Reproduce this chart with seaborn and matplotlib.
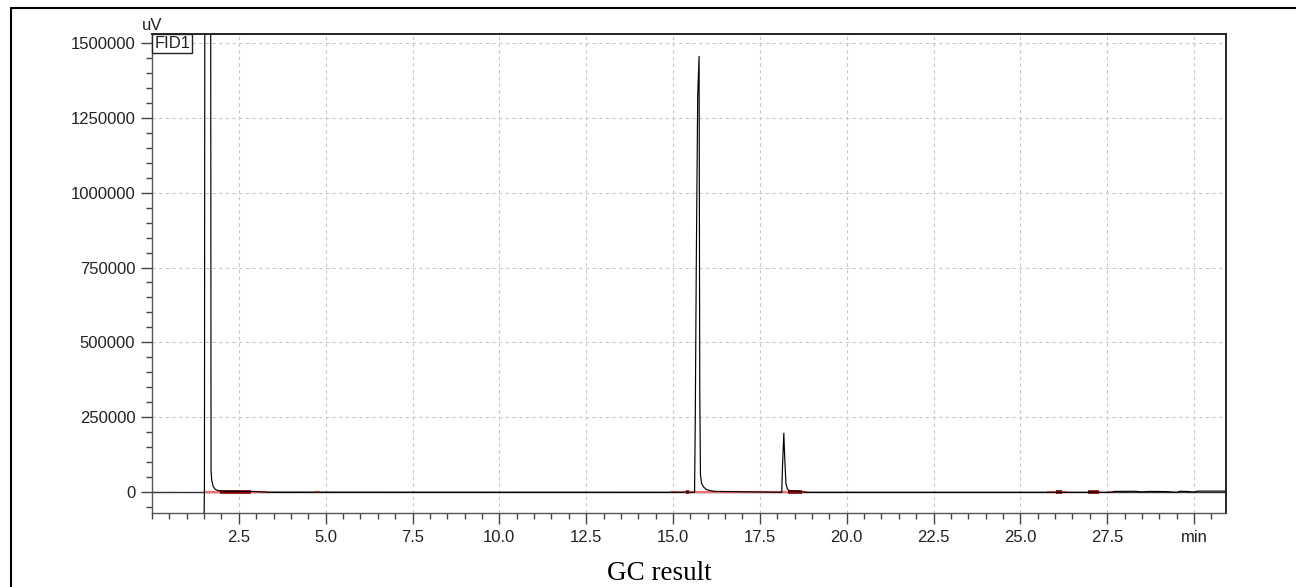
import matplotlib
matplotlib.use('Agg')
import matplotlib.pyplot as plt
import seaborn as sns
from matplotlib.lines import Line2D
from matplotlib.ticker import MultipleLocator, FixedLocator

# Chromatogram trace (time in min, signal in uV)
time_min = [1.50, 1.51, 1.52, 1.53, 1.69, 1.70, 1.72, 1.76, 1.82, 1.90, 2.00,
            2.85, 3.30, 15.30, 15.38, 15.42, 15.62, 15.64, 15.67, 15.71, 15.75,
            15.77, 15.79, 15.82, 15.88, 15.95, 16.05, 16.20, 17.50, 18.13, 18.15,
            18.19, 18.21, 18.25, 18.29, 18.35, 18.60, 18.80, 27.60, 27.70, 28.30,
            28.50, 28.70, 29.20, 29.50, 29.60, 29.80, 30.00, 30.10, 30.90]
signal_uv = [-90000, 30000, 1600000, 1600000, 1600000, 72000, 40000, 20000, 10000,
             6000, 4000, 3000, 500, 0, 2000, 0, 0, 232000, 765000, 1320000,
             1454000, 336000, 60000, 30000, 18000, 10000, 6000, 3000, 1000, 0,
             81000, 197000, 131000, 30000, 12000, 5000, 4000, 0, 0, 3000, 3500,
             1500, 3000, 2500, 0, 3500, 3000, 1000, 4000, 4000]

# integration baseline marks (start, end) in min
light_marks_start = [1.50, 4.65, 14.90, 25.77, 27.50]
light_marks_end = [3.30, 4.85, 18.85, 26.35, 27.60]
dark_marks_start = [1.97, 15.36, 18.32, 26.03, 26.96]
dark_marks_end = [2.86, 15.45, 18.70, 26.20, 27.25]

y_major = [0, 250000, 500000, 750000, 1000000, 1250000, 1500000]
x_major = [2.5, 5.0, 7.5, 10.0, 12.5, 15.0, 17.5, 20.0, 22.5, 25.0, 27.5, 30.0]
x_labels = ['2.5', '5.0', '7.5', '10.0', '12.5', '15.0', '17.5', '20.0',
            '22.5', '25.0', '27.5', 'min']

sns.set_theme(style='white')
plt.rcParams['font.family'] = ['Liberation Sans', 'DejaVu Sans']

fig = plt.figure(figsize=(12.96, 5.87), dpi=100)
ax = fig.add_axes([152 / 1296, 1 - 513 / 587, (1226 - 152) / 1296, (513 - 34) / 587])

ax.set_xlim(0, 30.92)
ax.set_ylim(-69000, 1529000)

# grid
for xv in x_major:
    ax.axvline(xv, color='#c8c8c8', lw=0.8, ls=(0, (3, 3)), zorder=0)
for yv in y_major:
    ax.axhline(yv, color='#c8c8c8', lw=0.8, ls=(0, (3, 3)), zorder=0)

ax.axhline(0, color='#333333', lw=1.0, zorder=1)

ax.hlines([0] * len(light_marks_start), light_marks_start, light_marks_end,
          color='#f07070', lw=1.6, zorder=2)
ax.hlines([0] * len(dark_marks_start), dark_marks_start, dark_marks_end,
          color='#8b0000', lw=2.6, zorder=2)

sns.lineplot(x=time_min, y=signal_uv, ax=ax, color='black', lw=0.85,
             estimator=None, sort=False, zorder=3)

ax.xaxis.set_major_locator(FixedLocator(x_major))
ax.set_xticklabels(x_labels)
ax.xaxis.set_minor_locator(MultipleLocator(0.5))
ax.yaxis.set_major_locator(FixedLocator(y_major))
ax.set_yticklabels([str(v) for v in y_major])
ax.yaxis.set_minor_locator(MultipleLocator(50000))

ax.tick_params(which='major', direction='out', length=8, width=1, color='#444444',
               labelsize=12, labelcolor='#222222', pad=4)
ax.tick_params(which='minor', direction='out', length=4, width=1, color='#444444')
ax.tick_params(axis='x', which='both', bottom=True)
ax.tick_params(axis='y', which='both', left=True)
ax.set_xlabel('')
ax.set_ylabel('')

for side in ['left', 'bottom']:
    ax.spines[side].set_color('#555555')
    ax.spines[side].set_linewidth(1.0)
for side in ['top', 'right']:
    ax.spines[side].set_color('#222222')
    ax.spines[side].set_linewidth(1.4)

ax.text(0.002, 0.995, 'FID1', transform=ax.transAxes, ha='left', va='top',
        fontsize=12, color='#222222', zorder=5,
        bbox=dict(boxstyle='square,pad=0.12', fc='white', ec='#222222', lw=1.0))

fig.text(152 / 1296, 1 - 25 / 587, 'uV', ha='center', va='center',
         fontsize=12, color='#222222')

fig.text(659 / 1296, 1 - 580 / 587, 'GC result', ha='center', va='baseline',
         fontsize=19.5, family=['Liberation Serif', 'DejaVu Serif'], color='black')

# document frame around the figure
fig.add_artist(Line2D([11 / 1296, 11 / 1296], [0, 1 - 8 / 587],
                      transform=fig.transFigure, color='black', lw=1.5))
fig.add_artist(Line2D([11 / 1296, 1], [1 - 8 / 587, 1 - 8 / 587],
                      transform=fig.transFigure, color='black', lw=1.5))

fig.savefig('out.png', dpi=100)
